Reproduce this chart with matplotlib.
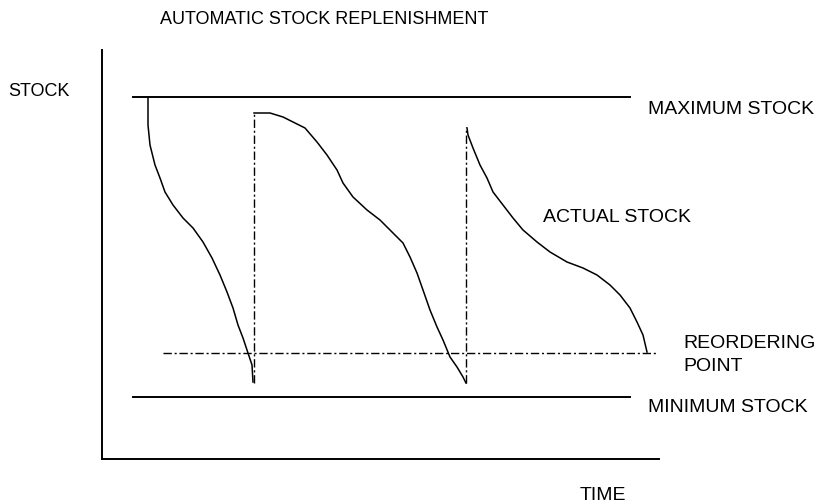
import numpy as np
import matplotlib
matplotlib.use("Agg")
import matplotlib.pyplot as plt

plt.rcParams['font.family'] = ['Liberation Sans', 'DejaVu Sans']

# stock levels (time, stock)
MAX_STOCK = 362
MIN_STOCK = 62
REORDER_POINT = 106
LEVEL_START, LEVEL_END = 31, 528
REORDER_START, REORDER_END = 61, 556

cycle1_t = [46, 46, 48, 53, 58, 63, 71, 81, 91, 101, 110, 118, 125, 131, 136, 141, 146, 150, 151]
cycle1_s = [361, 334, 314, 294, 281, 267, 254, 241, 231, 217, 201, 184, 167, 151, 134, 121, 106, 94, 77]

cycle2_t = [152, 168, 181, 191, 203, 215, 225, 235, 241, 251, 265, 278, 291, 301, 308, 315,
            321, 328, 335, 341, 348, 355, 361, 364]
cycle2_s = [346, 346, 342, 337, 331, 317, 304, 289, 276, 262, 249, 239, 226, 216, 202, 186,
            169, 149, 132, 119, 102, 92, 82, 76]

cycle3_t = [365, 366, 371, 378, 385, 391, 401, 411, 421, 435, 448, 465, 481, 495, 508, 518,
            528, 535, 541, 545]
cycle3_s = [331, 324, 311, 294, 281, 267, 254, 241, 229, 217, 207, 197, 191, 184, 174, 164,
            151, 137, 124, 107]

# deliveries: (time, stock before, stock after)
deliveries = [(152, 76, 346), (364, 76, 332)]

fig = plt.figure(figsize=(8.33, 5.04), dpi=100)
ax = fig.add_axes([102 / 833, 45 / 504, 557 / 833, 409 / 504])
ax.set_xlim(0, 557)
ax.set_ylim(0, 409)
for side in ['top', 'right']:
    ax.spines[side].set_visible(False)
for side in ['left', 'bottom']:
    ax.spines[side].set_linewidth(1.4)
ax.set_xticks([])
ax.set_yticks([])

dashdot = (0, (6, 2, 1.5, 2))

# max / min levels
ax.plot([LEVEL_START, LEVEL_END], [MAX_STOCK, MAX_STOCK], color='black', lw=1.4)
ax.plot([LEVEL_START, LEVEL_END], [MIN_STOCK, MIN_STOCK], color='black', lw=1.4)

# reordering point
ax.plot([REORDER_START, REORDER_END], [REORDER_POINT, REORDER_POINT],
        color='black', lw=1.0, linestyle=dashdot)

# actual stock
for t, s in [(cycle1_t, cycle1_s), (cycle2_t, cycle2_s), (cycle3_t, cycle3_s)]:
    ax.plot(t, s, color='black', lw=1.1)

for t, lo, hi in deliveries:
    ax.plot([t, t], [lo, hi], color='black', lw=1.0, linestyle=dashdot)

fs = 13
fl = 14
ax.text(222, 439, 'AUTOMATIC STOCK REPLENISHMENT', ha='center', va='center', fontsize=fs, clip_on=False)
ax.text(-94, 367, 'STOCK', ha='left', va='center', fontsize=fs, clip_on=False)
ax.text(546, 349, 'MAXIMUM STOCK', ha='left', va='center', fontsize=fl, clip_on=False)
ax.text(441, 242, 'ACTUAL STOCK', ha='left', va='center', fontsize=fl, clip_on=False)
ax.text(581, 104, 'REORDERING\nPOINT', ha='left', va='center', fontsize=fl,
        linespacing=1.4, clip_on=False)
ax.text(546, 51, 'MINIMUM STOCK', ha='left', va='center', fontsize=fl, clip_on=False)
ax.text(478, -36, 'TIME', ha='left', va='center', fontsize=fl, clip_on=False)

fig.savefig('out.png', dpi=100)
